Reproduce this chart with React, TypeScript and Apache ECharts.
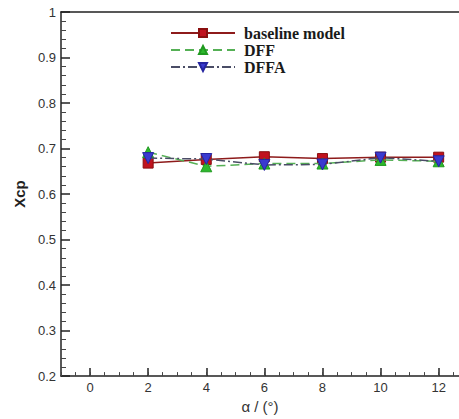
import React, { useEffect, useRef } from "react";
import * as echarts from "echarts";

const alpha = [2, 4, 6, 8, 10, 12];
const baseline = [0.668, 0.676, 0.682, 0.678, 0.681, 0.681];
const dff = [0.692, 0.661, 0.667, 0.667, 0.675, 0.672];
const dffa = [0.679, 0.677, 0.664, 0.665, 0.68, 0.672];
const xMajorTicks = [0, 2, 4, 6, 8, 10, 12];
const seriesNames = ["baseline model", "DFF", "DFFA"];

const pts = (ys: number[]) => alpha.map((x, i) => [x, ys[i]]);

export default function App() {
  const ref = useRef<HTMLDivElement>(null);
  useEffect(() => {
    if (!ref.current) return;
    const chart = echarts.init(ref.current, null, { renderer: "svg" });
    const axisColor = "#222";
    const labelFont = { fontFamily: "Liberation Sans", fontSize: 13, color: "#333" };
    chart.setOption({
      animation: false,
      backgroundColor: "#fff",
      grid: { left: 61, right: 0, top: 12, bottom: 38, containLabel: false },
      legend: {
        orient: "vertical",
        left: 165,
        top: 20,
        itemWidth: 64,
        itemHeight: 10,
        itemGap: 1,
        data: seriesNames,
        textStyle: {
          fontFamily: "Liberation Serif",
          fontWeight: "bold",
          fontSize: 16,
          color: "#1a1a1a",
          padding: [0, 0, 0, 4],
        },
      },
      xAxis: [
        {
          type: "value",
          position: "bottom",
          min: -1,
          max: 12.7,
          name: "α / (°)",
          nameLocation: "middle",
          nameGap: 18,
          nameTextStyle: { fontFamily: "Liberation Sans", fontSize: 15, color: "#333" },
          axisLine: { show: true, onZero: false, lineStyle: { color: axisColor, width: 1.5 } },
          axisTick: {
            show: true,
            inside: true,
            length: 8,
            customValues: xMajorTicks,
            lineStyle: { color: axisColor, width: 1.5 },
          },
          axisLabel: { ...labelFont, margin: 5, customValues: xMajorTicks },
          splitLine: { show: false },
        },
        {
          type: "value",
          position: "bottom",
          min: -1,
          max: 12.7,
          interval: 0.5,
          axisLine: { show: false, onZero: false },
          axisTick: { show: true, inside: true, length: 4, lineStyle: { color: "#444", width: 1 } },
          axisLabel: { show: false },
          splitLine: { show: false },
        },
        {
          type: "value",
          position: "top",
          min: -1,
          max: 12.7,
          axisLine: { show: true, onZero: false, lineStyle: { color: axisColor, width: 1.5 } },
          axisTick: { show: false },
          axisLabel: { show: false },
          splitLine: { show: false },
        },
      ],
      yAxis: {
        type: "value",
        min: 0.2,
        max: 1,
        interval: 0.1,
        name: "Xcp",
        nameLocation: "middle",
        nameGap: 29,
        nameTextStyle: { fontFamily: "Liberation Sans", fontSize: 15, fontWeight: "bold", color: "#222" },
        axisLine: { show: true, onZero: false, lineStyle: { color: axisColor, width: 1.5 } },
        axisTick: { show: true, inside: true, length: 9, lineStyle: { color: axisColor, width: 1.5 } },
        minorTick: { show: true, splitNumber: 5, length: 5, lineStyle: { color: "#444", width: 1 } },
        axisLabel: {
          ...labelFont,
          margin: 5,
          formatter: (v: number) => (Math.abs(v - 1) < 1e-9 ? "1" : v.toFixed(1)),
        },
        splitLine: { show: false },
        minorSplitLine: { show: false },
      },
      series: [
        {
          name: seriesNames[0],
          type: "line",
          xAxisIndex: 0,
          data: pts(baseline),
          symbol: "rect",
          symbolSize: 10,
          lineStyle: { color: "#8e1b1b", width: 1.5, type: "solid" },
          itemStyle: { color: "#c0121e", borderColor: "#8a0f0f", borderWidth: 1 },
          z: 3,
        },
        {
          name: seriesNames[1],
          type: "line",
          xAxisIndex: 0,
          data: pts(dff),
          symbol: "triangle",
          symbolSize: 11,
          lineStyle: { color: "#55b055", width: 1.5, type: [9, 5] },
          itemStyle: { color: "#2db82d", borderColor: "#1f9a1f", borderWidth: 1 },
          z: 4,
        },
        {
          name: seriesNames[2],
          type: "line",
          xAxisIndex: 0,
          data: pts(dffa),
          symbol: "triangle",
          symbolRotate: 180,
          symbolSize: 11,
          lineStyle: { color: "#4a4d66", width: 1.5, type: [9, 3, 2, 3] },
          itemStyle: { color: "#3a3ad0", borderColor: "#2525a0", borderWidth: 1 },
          z: 5,
        },
      ],
    });
    return () => chart.dispose();
  }, []);
  return (
    <div
      ref={ref}
      style={{ position: "fixed", left: 0, top: 0, width: 459, height: 419, background: "#fff" }}
    />
  );
}
